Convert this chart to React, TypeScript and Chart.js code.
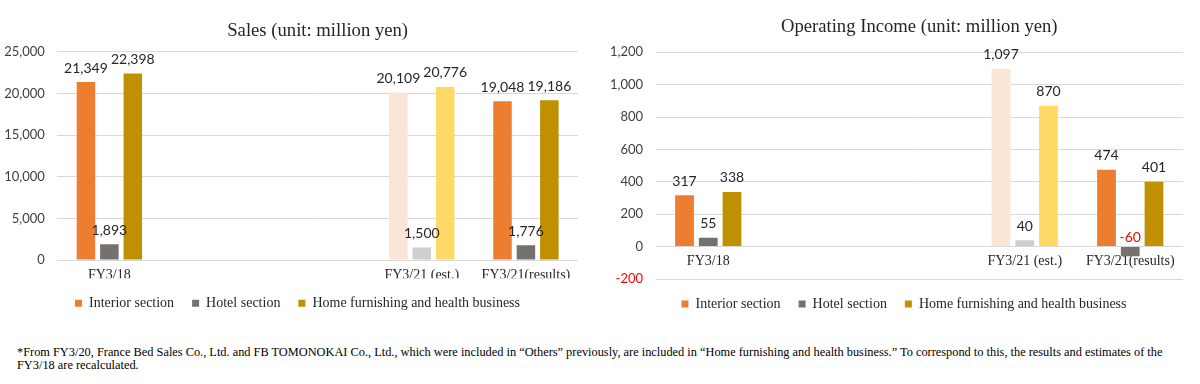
import React, { useEffect, useRef } from "react";
import { Chart, registerables } from "chart.js";

Chart.register(...registerables);

// ---- data ----
const categories = ["FY3/18", "", "", "FY3/21 (est.)", "FY3/21(results)"];
const isEstimate = [false, false, false, true, false];
const seriesNames = ["Interior section", "Hotel section", "Home furnishing and health business"];

const salesInterior = [21349, null, null, 20109, 19048];
const salesHotel = [1893, null, null, 1500, 1776];
const salesHome = [22398, null, null, 20776, 19186];

const incomeInterior = [317, null, null, 1097, 474];
const incomeHotel = [55, null, null, 40, -60];
const incomeHome = [338, null, null, 870, 401];

const salesTickValues = [0, 5000, 10000, 15000, 20000, 25000];
const incomeTickValues = [-200, 0, 200, 400, 600, 800, 1000, 1200];

const baseColors = ["#ED7D31", "#767171", "#BF9000"];
const estColors = ["#FBE5D6", "#D0CECE", "#FFD966"];

const salesTitle = "Sales (unit: million yen)";
const incomeTitle = "Operating Income (unit: million yen)";
const footnoteLines = [
  "*From FY3/20, France Bed Sales Co., Ltd. and FB TOMONOKAI Co., Ltd., which were included in \u201cOthers\u201d previously, are included in \u201cHome furnishing and health business.\u201d To correspond to this, the results and estimates of the",
  "FY3/18 are recalculated.",
];

const SERIF = "'Liberation Serif', 'Times New Roman', serif";
const SANS = "Lato, 'Open Sans', sans-serif";

const valueLabels = {
  id: "valueLabels",
  afterDatasetsDraw(chart: any) {
    const ctx = chart.ctx;
    const zero = chart.scales.y.getPixelForValue(0);
    ctx.save();
    ctx.font = `14px ${SANS}`;
    ctx.textAlign = "center";
    ctx.textBaseline = "alphabetic";
    chart.data.datasets.forEach((ds: any, di: number) => {
      const meta = chart.getDatasetMeta(di);
      meta.data.forEach((el: any, i: number) => {
        const v = ds.data[i];
        if (v == null) return;
        const y = v >= 0 ? el.y - 9.5 : zero - 5;
        ctx.fillStyle = v < 0 ? "#FF0000" : "#262626";
        ctx.fillText(Number(v).toLocaleString("en-US"), el.x, y);
      });
    });
    ctx.restore();
  },
};

type PanelCfg = {
  title: string;
  series: (number | null)[][];
  ticks: number[];
  yWidth: number;
  pad: { left: number; right: number; top: number; bottom: number };
  titlePad: { top: number; bottom: number };
  xAtZero: boolean;
  xHeight: number;
  legendShift: number;
};

function Panel({ cfg }: { cfg: PanelCfg }) {
  const ref = useRef<HTMLCanvasElement | null>(null);
  useEffect(() => {
    if (!ref.current) return;
    const datasets = cfg.series.map((data, si) => ({
      label: seriesNames[si],
      data,
      backgroundColor: categories.map((_, ci) => (isEstimate[ci] ? estColors[si] : baseColors[si])),
      borderWidth: 0,
      categoryPercentage: 0.675,
      barPercentage: 0.79,
    }));
    const minV = cfg.ticks[0];
    const maxV = cfg.ticks[cfg.ticks.length - 1];
    const step = cfg.ticks[1] - cfg.ticks[0];
    const legendShift = {
      id: "legendShift",
      afterLayout(chart: any) {
        if (chart.legend) {
          chart.legend.left += cfg.legendShift;
          chart.legend.right += cfg.legendShift;
        }
      },
    };
    const chart = new Chart(ref.current, {
      type: "bar",
      data: { labels: categories, datasets },
      plugins: [valueLabels, legendShift],
      options: {
        responsive: false,
        animation: false,
        devicePixelRatio: 1,
        layout: { padding: cfg.pad },
        plugins: {
          title: {
            display: true,
            text: cfg.title,
            fullSize: false,
            color: "#262626",
            font: { family: SERIF, size: 18.67, weight: "normal", lineHeight: 1.2 },
            padding: cfg.titlePad,
          },
          legend: {
            position: "bottom",
            labels: {
              boxWidth: 7,
              boxHeight: 7,
              padding: 18,
              color: "#262626",
              font: { family: SERIF, size: 14 },
            },
          },
          tooltip: { enabled: false },
        },
        scales: {
          x: {
            position: cfg.xAtZero ? { y: 0 } : "bottom",
            grid: { display: false, drawTicks: false },
            border: { display: false },
            ticks: {
              color: "#262626",
              font: { family: SERIF, size: 14 },
              padding: 6.6,
              maxRotation: 0,
              autoSkip: false,
            },
            afterFit: (s: any) => {
              s.height = cfg.xHeight;
            },
          },
          y: {
            min: minV,
            max: maxV,
            grid: { color: "#D9D9D9", lineWidth: 1, drawTicks: false },
            border: { display: false },
            ticks: {
              stepSize: step,
              padding: 12.5,
              font: { family: SANS, size: 13 },
              color: (c: any) => (c.tick && c.tick.value < 0 ? "#FF0000" : "#404040"),
            },
            afterFit: (s: any) => {
              s.width = cfg.yWidth;
            },
          },
        },
      } as any,
    });
    return () => chart.destroy();
  }, []);
  return <canvas ref={ref} width={600} height={330} />;
}

const salesCfg: PanelCfg = {
  title: salesTitle,
  series: [salesInterior, salesHotel, salesHome],
  ticks: salesTickValues,
  yWidth: 57.3,
  pad: { left: 0, right: 22, top: 0, bottom: 9.7 },
  titlePad: { top: 20.3, bottom: 9 },
  xAtZero: false,
  xHeight: 18.3,
  legendShift: 8.5,
};

const incomeCfg: PanelCfg = {
  title: incomeTitle,
  series: [incomeInterior, incomeHotel, incomeHome],
  ticks: incomeTickValues,
  yWidth: 55.5,
  pad: { left: 0, right: 17, top: 0, bottom: 9 },
  titlePad: { top: 15.8, bottom: 14.1 },
  xAtZero: true,
  xHeight: 0.7,
  legendShift: 12.5,
};

export default function App() {
  return (
    <div
      style={{
        position: "absolute",
        left: 0,
        top: 0,
        width: 1200,
        height: 384,
        background: "#ffffff",
        overflow: "hidden",
      }}
    >
      <div style={{ position: "absolute", left: 0, top: 0, width: 600, height: 330 }}>
        <Panel cfg={salesCfg} />
      </div>
      <div style={{ position: "absolute", left: 600, top: 0, width: 600, height: 330 }}>
        <Panel cfg={incomeCfg} />
      </div>
      <div
        style={{
          position: "absolute",
          left: 17,
          top: 346.1,
          fontFamily: SERIF,
          fontSize: 12.35,
          lineHeight: "13px",
          color: "#000000",
          whiteSpace: "nowrap",
        }}
      >
        {footnoteLines.map((l, i) => (
          <div key={i}>{l}</div>
        ))}
      </div>
    </div>
  );
}
